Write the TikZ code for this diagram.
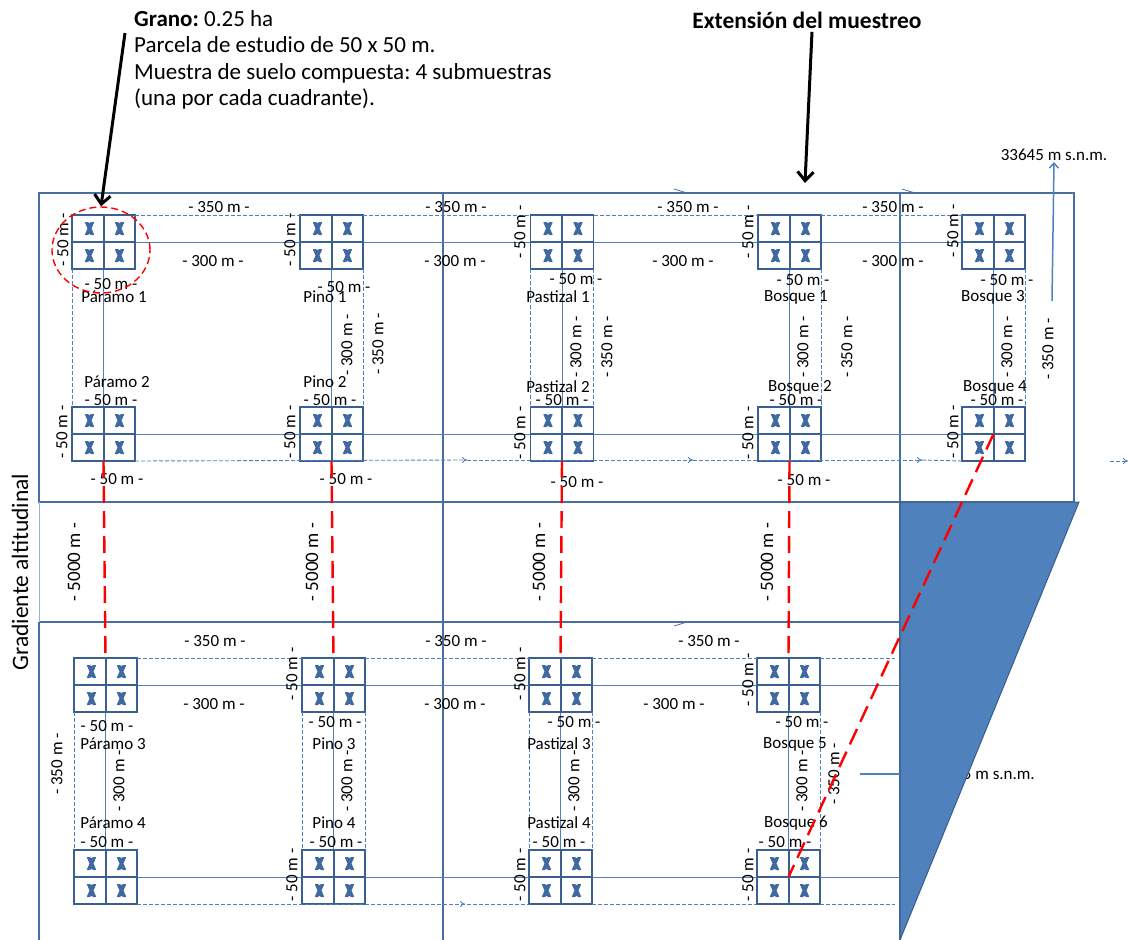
\documentclass[tikz,border=0pt]{standalone}
\usepackage{fontspec}
\setmainfont{Carlito}
\frenchspacing
\usetikzlibrary{arrows.meta, shapes.geometric}
\definecolor{marcoazul}{RGB}{74,110,160}
\definecolor{parcelaazul}{RGB}{60,95,145}
\definecolor{lineaazul}{RGB}{79,129,189}
\definecolor{cruzazul}{RGB}{63,105,160}
\definecolor{bordeazul}{RGB}{56,93,138}
\newcommand{\letrachica}{\fontsize{17}{20}\selectfont}
\newcommand{\letragrande}{\fontsize{23}{26.5}\selectfont}
% una parcela de 2 x 2 cuadrantes con sus submuestras
\newcommand{\parcela}[3]{%
  \node[parcela] (#1) at (#2,#3) {};
  \foreach \dx in {-14,16} \foreach \dy in {-13.5,13.5}
    \pic at ([shift={(\dx,\dy)}]#1.center) {cruz};
}

\begin{document}
\begin{tikzpicture}[x=1pt, y=-1pt,
    marco/.style={draw=marcoazul, line width=1.6pt},
    guia/.style={draw=lineaazul, line width=0.9pt},
    trazo/.style={draw=lineaazul, line width=0.9pt, dash pattern=on 4pt off 2pt},
    punta/.style={-{To[length=5pt,width=6pt]}},
    rojo/.style={draw=red, line width=2.4pt, dash pattern=on 17pt off 8pt},
    flecha/.style={draw=black, line width=3pt, -{Straight Barb[length=9pt,width=16pt]}},
    cota/.style={font=\letrachica, inner sep=1pt},
    cotav/.style={cota, rotate=90},
    parcela/.style={draw=parcelaazul, line width=1.8pt, fill=white, minimum width=63pt, minimum height=54pt, inner sep=0pt, outer sep=0pt,
      path picture={\draw[parcelaazul, line width=2pt] (path picture bounding box.north) -- (path picture bounding box.south)
        (path picture bounding box.west) -- (path picture bounding box.east);}},
    cruz/.pic={\fill[cruzazul, rounded corners=0.6pt] (-4.8,-6.5) -- (-1.3,-6.5) -- (0,-5) -- (1.3,-6.5) -- (4.8,-6.5) -- (2,0)
      -- (4.8,6.5) -- (1.3,6.5) -- (0,5) -- (-1.3,6.5) -- (-4.8,6.5) -- (-2,0) -- cycle;}
]
    \useasboundingbox (0,0) rectangle (1128,940);

    % marcos del muestreo
    \draw[marco] (39,193) rectangle (1074,502);
    \draw[marco] (443,193) -- (443,940);
    \draw[marco] (900,193) -- (900,940);
    \draw[marco] (39,622) -- (900,622);
    \draw[marco] (39,622) -- (39,940);
    \draw[draw=lineaazul!60, line width=1pt] (39,502) -- (39,622);
    \draw[marcoazul, line width=0.8pt] (674,189) -- (687,193);
    \draw[marcoazul, line width=0.8pt] (902,189) -- (915,193);
    \draw[marcoazul, line width=0.8pt] (674,626) -- (687,622);

    % puntos libres
    \coordinate (finC) at (900,685);
    \coordinate (finD) at (900,877);
    \coordinate (finCarriba) at (895,658);
    \coordinate (finDabajo) at (895,904);
    \coordinate (fB1) at (467,460);
    \coordinate (fB2) at (693,460);
    \coordinate (fB3) at (922,460);
    \coordinate (fD1) at (465,904);
    \coordinate (fderA) at (1110,461);
    \coordinate (fderB) at (1128,461);

    % lineas entre centros de parcelas
    \draw[guia] (103.5,242) -- (993.5,242);
    \draw[guia] (103.5,434) -- (993.5,434);
    \foreach \x in {103.5,331.5,562,789.5,993.5}
        \draw[guia] (\x,242) -- (\x,434);
    \draw[guia] (105.5,685) -- (finC);
    \draw[guia] (105.5,877) -- (finD);
    \foreach \x in {105.5,333.5,560.5,788.5}
        \draw[guia] (\x,685) -- (\x,877);

    % parcelas
    \parcela{par1}{103.5}{242}
    \parcela{pin1}{331.5}{242}
    \parcela{pas1}{562}{242}
    \parcela{bos1}{789.5}{242}
    \parcela{bos3}{993.5}{242}
    \parcela{par2}{103.5}{434}
    \parcela{pin2}{331.5}{434}
    \parcela{pas2}{562}{434}
    \parcela{bos2}{789.5}{434}
    \parcela{bos4}{993.5}{434}
    \parcela{par3}{105.5}{685}
    \parcela{pin3}{333.5}{685}
    \parcela{pas3}{560.5}{685}
    \parcela{bos5}{788.5}{685}
    \parcela{par4}{105.5}{877}
    \parcela{pin4}{333.5}{877}
    \parcela{pas4}{560.5}{877}
    \parcela{bos6}{788.5}{877}

    % limites de 350 m
    \draw[trazo] (par1.north east) -- (pin1.north west);
    \draw[trazo] (pin1.north east) -- (pas1.north west);
    \draw[trazo] (pas1.north east) -- (bos1.north west);
    \draw[trazo] (bos1.north east) -- (bos3.north west);
    \draw[trazo, punta] (par2.south east) -- (fB1);
    \draw[trazo, punta] (fB1) -- (fB2);
    \draw[trazo, punta] (fB2) -- (fB3);
    \draw[trazo] (fB3) -- (bos4.south west);
    \draw[trazo, punta] (fderA) -- (fderB);
    \draw[trazo] (par1.south west) -- (par2.north west);
    \draw[trazo] (pin1.south east) -- (pin2.north east);
    \draw[trazo] (pas1.south west) -- (pas2.north west);
    \draw[trazo] (pas1.south east) -- (pas2.north east);
    \draw[trazo] (bos1.south east) -- (bos2.north east);
    \draw[trazo] (bos3.south east) -- (bos4.north east);
    \draw[trazo] (par3.north east) -- (pin3.north west);
    \draw[trazo] (pin3.north east) -- (pas3.north west);
    \draw[trazo] (pas3.north east) -- (bos5.north west);
    \draw[trazo] (bos5.north east) -- (finCarriba);
    \draw[trazo, punta] (par4.south east) -- (fD1);
    \draw[trazo] (fD1) -- (pin4.south west);
    \draw[trazo] (pin4.south east) -- (pas4.south west);
    \draw[trazo] (pas4.south east) -- (bos6.south west);
    \draw[trazo] (bos6.south east) -- (finDabajo);
    \draw[trazo] (par3.south west) -- (par4.north west);
    \draw[trazo] (pin3.south west) -- (pin4.north west);
    \draw[trazo] (pin3.south east) -- (pin4.north east);
    \draw[trazo] (pas3.south west) -- (pas4.north west);
    \draw[trazo] (pas3.south east) -- (pas4.north east);
    \draw[trazo] (bos5.south east) -- (bos6.north east);

    % cotas horizontales
    \foreach \x [count=\i] in {219,456,688,893}
        \node[cota] (a350-\i) at (\x,207) {- 350 m -};
    \foreach \x [count=\i] in {213,455,683,893}
        \node[cota] (a300-\i) at (\x,261) {- 300 m -};
    \foreach \x [count=\i] in {215,456,709}
        \node[cota] (b350-\i) at (\x,641) {- 350 m -};
    \foreach \x [count=\i] in {214,455,674}
        \node[cota] (b300-\i) at (\x,704) {- 300 m -};
    \foreach \x/\y [count=\i] in {111/284,344/287,576/279,803/280,1007/280,
        111/400,330/400,562/400,796/400,997/400,
        117/479,346/479,577/482,804/480,
        107/726,335/722,574/722,802/722,
        107/842,336/842,559/842,785/842}
        \node[cota] (h50-\i) at (\x,\y) {- 50 m -};

    % cotas verticales
    \foreach \x/\y [count=\i] in {63/240,290/240,520/232,748/232,953/231,
        62/432,290/432,520/433,748/433,953/432,
        292/674,520/674,748/680,
        292/875,520/875,748/875}
        \node[cotav] (v50-\i) at (\x,\y) {- 50 m -};
    \foreach \x/\y [count=\i] in {347/345,576/347,803/347,1007/347,119/781,347/781,574/781,802/781}
        \node[cotav] (v300-\i) at (\x,\y) {- 300 m -};
    \foreach \x/\y [count=\i] in {378/344,607/347,847/347,1048/349,57/764,834/774}
        \node[cotav] (v350-\i) at (\x,\y) {- 350 m -};
    \foreach \x [count=\i] in {74,312,539,767}
        \node[cotav, font=\fontsize{19}{22}\selectfont] (v5000-\i) at (\x,562) {- 5000 m -};

    % nombres de parcelas
    \foreach \x/\y/\t [count=\i] in {114/297/Páramo 1,325/297/Pino 1,558/297/Pastizal 1,796/297/Bosque 1,993/297/Bosque 3,
        117/382/Páramo 2,325/382/Pino 2,558/387/Pastizal 2,800/387/Bosque 2,995/387/Bosque 4,
        113/744/Páramo 3,334/744/Pino 3,559/744/Pastizal 3,795/744/Bosque 5,
        113/823/Páramo 4,334/823/Pino 4,559/823/Pastizal 4,796/823/Bosque 6}
        \node[cota] (nom-\i) at (\x,\y) {\t};

    % altitudes
    \node[cota] (alt1) at (1054,155) {33645 m s.n.m.};
    \coordinate (alt1cola) at (1052,301);
    \draw[draw=lineaazul, line width=1.5pt, -{Straight Barb[length=5pt,width=9pt]}] (alt1cola) -- (alt1.south);
    \node[cota, anchor=east] (alt2) at (1036,774) {5 m s.n.m.};
    \coordinate (alt2cola) at (860,774);
    \draw[draw=lineaazul, line width=1.5pt] (alt2cola) -- (alt2.west);

    % gradiente
    \fill[lineaazul, draw=bordeazul, line width=1pt] (900,502) -- (1079,502) -- (900,940) -- cycle;
    \node[rotate=90, font=\fontsize{23.5}{26}\selectfont] (gradiente) at (20,572) {Gradiente altitudinal};

    % transectos
    \draw[rojo] (par2.south) -- (par3.north);
    \draw[rojo] (pin2.south) -- (pin3.north);
    \draw[rojo] (pas2.south) -- (pas3.north);
    \draw[rojo] (bos2.south) -- (bos5.north);
    \draw[rojo] (bos4.center) -- (bos6.center);

    % grano y extension
    \node[draw=red, line width=1.4pt, dash pattern=on 7pt off 4pt, ellipse, minimum width=98pt, minimum height=86pt] (circ) at (101,250) {};
    \node[anchor=north west, align=left, font=\letragrande, inner sep=0pt] (grano) at (134,10)
        {\textbf{Grano:} 0.25 ha\\Parcela de estudio de 50 x 50 m.\\Muestra de suelo compuesta: 4 submuestras\\(una por cada cuadrante).};
    \coordinate (granocola) at (125,33);
    \draw[flecha] (granocola) -- (circ.north);
    \node[font=\fontsize{23.5}{26}\selectfont\bfseries] (ext) at (807,20) {Extensión del muestreo};
    \coordinate (extpunta) at (805,183);
    \draw[flecha] ([xshift=5pt]ext.south) -- (extpunta);
\end{tikzpicture}
\end{document}
